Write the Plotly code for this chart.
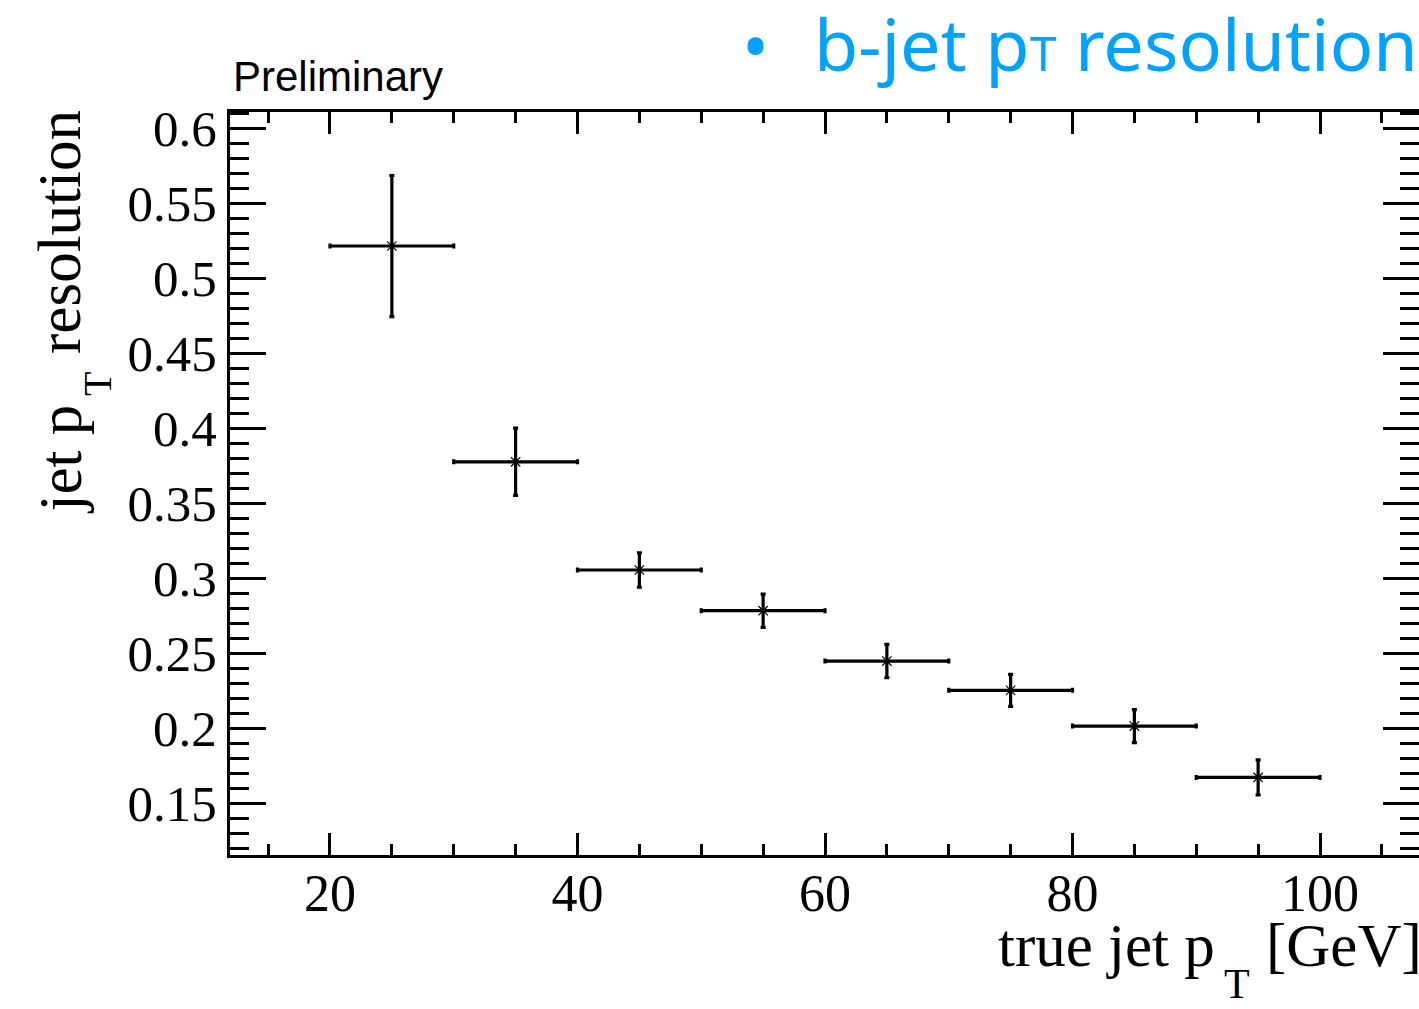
import plotly.graph_objects as go

# ---- data ----
pt_centers = [25, 35, 45, 55, 65, 75, 85, 95]
pt_halfwidth = [5, 5, 5, 5, 5, 5, 5, 5]
resolution = [0.5214, 0.3776, 0.3055, 0.2784, 0.2448, 0.2253, 0.2015, 0.1673]
resolution_err = [0.047, 0.0224, 0.0115, 0.0111, 0.0111, 0.0107, 0.011, 0.0117]

x_tickvals = [20, 40, 60, 80, 100]
x_ticktext = ["20", "40", "60", "80", "100"]
y_tickvals = [0.15, 0.2, 0.25, 0.3, 0.35, 0.4, 0.45, 0.5, 0.55, 0.6]
y_ticktext = ["0.15", "0.2", "0.25", "0.3", "0.35", "0.4", "0.45", "0.5", "0.55", "0.6"]

# ---- layout geometry ----
W, H = 1419, 1009
L, R, T, B = 230, 1419, 112, 855


def xp(px):
    return (px - L) / (R - L)


def yp(py):
    return (B - py) / (B - T)


SERIF = "Liberation Serif, Times New Roman, serif"
SANS = "Liberation Sans, Arial, sans-serif"
BLUE = "#00a2ff"

fig = go.Figure()
fig.add_trace(go.Scatter(
    x=pt_centers,
    y=resolution,
    mode="markers",
    marker=dict(symbol="asterisk-open", size=11, color="black",
                line=dict(color="black", width=1.2)),
    error_x=dict(type="data", array=pt_halfwidth, visible=True,
                 color="black", thickness=3.2, width=2.5),
    error_y=dict(type="data", array=resolution_err, visible=True,
                 color="black", thickness=3.2, width=2.5),
    showlegend=False,
    hoverinfo="x+y",
))

axis_common = dict(
    showgrid=False, zeroline=False, showline=True, linecolor="black",
    linewidth=3, mirror="ticks", ticks="inside", tickcolor="black",
    tickwidth=3,
)

fig.update_xaxes(
    range=[11.92, 108], tickmode="array", tickvals=x_tickvals,
    ticktext=x_ticktext, ticklen=22, ticklabelstandoff=-9,
    tickfont=dict(family=SERIF, size=52, color="black"),
    minor=dict(dtick=5, tick0=0, ticks="inside", ticklen=11,
               tickwidth=3, tickcolor="black", showgrid=False),
    **axis_common,
)
fig.update_yaxes(
    range=[0.1156, 0.6107], tickmode="array", tickvals=y_tickvals,
    ticktext=y_ticktext, ticklen=36, ticklabelstandoff=0,
    tickfont=dict(family=SERIF, size=51, color="black"),
    minor=dict(dtick=0.01, tick0=0, ticks="inside", ticklen=19,
               tickwidth=3, tickcolor="black", showgrid=False),
    **axis_common,
)

ann = []
# x-axis title: "true jet p_T [GeV]"
ann.append(dict(text="true jet p", xref="paper", yref="paper",
                x=xp(1217), y=yp(945), xanchor="right", yanchor="middle",
                showarrow=False, font=dict(family=SERIF, size=61, color="black")))
ann.append(dict(text="T", xref="paper", yref="paper",
                x=xp(1237), y=yp(984), xanchor="center", yanchor="middle",
                showarrow=False, font=dict(family=SERIF, size=42, color="black")))
ann.append(dict(text="[GeV]", xref="paper", yref="paper",
                x=xp(1264), y=yp(945), xanchor="left", yanchor="middle",
                showarrow=False, font=dict(family=SERIF, size=61, color="black")))
# y-axis title: "jet p_T resolution" (rotated)
ann.append(dict(text="jet p", xref="paper", yref="paper",
                x=xp(60), y=yp(516), xanchor="center", yanchor="bottom",
                textangle=-90, showarrow=False,
                font=dict(family=SERIF, size=61, color="black")))
ann.append(dict(text="T", xref="paper", yref="paper",
                x=xp(97), y=yp(384), xanchor="center", yanchor="middle",
                textangle=-90, showarrow=False,
                font=dict(family=SERIF, size=40, color="black")))
ann.append(dict(text="resolution", xref="paper", yref="paper",
                x=xp(60), y=yp(108), xanchor="center", yanchor="top",
                textangle=-90, showarrow=False,
                font=dict(family=SERIF, size=61, color="black")))
# "Preliminary"
ann.append(dict(text="Preliminary", xref="paper", yref="paper",
                x=xp(231), y=yp(76), xanchor="left", yanchor="middle",
                showarrow=False, font=dict(family=SANS, size=42, color="black")))
# slide-style title
ann.append(dict(text="\u2022", xref="paper", yref="paper",
                x=xp(755), y=yp(44), xanchor="center", yanchor="middle",
                showarrow=False, font=dict(family="Noto Sans", size=72, color=BLUE)))
ann.append(dict(text='b-jet p<span style="font-size:48px">T</span> resolution',
                xref="paper", yref="paper",
                x=xp(1420), y=yp(43), xanchor="right", yanchor="middle",
                showarrow=False, font=dict(family="Noto Sans", size=72, color=BLUE)))

fig.update_layout(
    width=W, height=H,
    margin=dict(l=L, r=W - R, t=T, b=H - B, pad=0, autoexpand=False),
    paper_bgcolor="white", plot_bgcolor="white",
    annotations=ann,
)

fig.write_html("out.html")
